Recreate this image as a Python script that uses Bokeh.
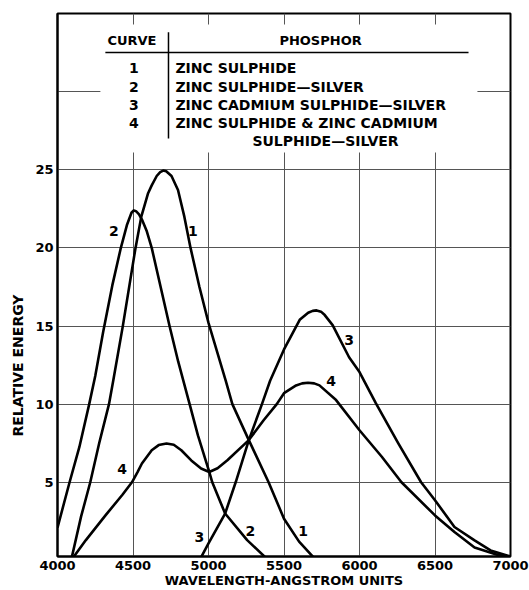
import numpy as np
from bokeh.plotting import figure
from bokeh.models import FixedTicker, Range1d, Title
from bokeh.core.properties import value
from bokeh.embed import file_html
from bokeh.resources import INLINE

FONT = "DejaVu Sans"

# ---- data ----
wl1 = [4090, 4156, 4217, 4276, 4341, 4369, 4432, 4515, 4555, 4600, 4624, 4657, 4680, 4700,
       4720, 4755, 4798, 4840, 4881, 4940, 5000, 5114, 5158, 5267, 5398, 5500, 5600, 5714]
e1 = [0, 2.8, 5.0, 7.5, 10, 11.5, 14.96, 19.9, 22.0, 23.5, 24.0, 24.6, 24.85, 24.95,
      24.9, 24.6, 23.7, 22.0, 20, 17.5, 15.2, 11.5, 10, 7.7, 5, 2.67, 1.2, 0]

wl2 = [4000, 4080, 4145, 4210, 4250, 4302, 4363, 4417, 4461, 4490, 4505, 4520, 4540, 4560,
       4590, 4624, 4742, 4800, 4875, 4930, 5005, 5025, 5110, 5256, 5398]
e2 = [2.1, 5, 7.26, 10, 11.8, 14.6, 17.6, 19.9, 21.5, 22.25, 22.4, 22.35, 22.15, 21.8,
      21.1, 20, 15, 12.7, 10, 8.0, 5.66, 5.0, 3.0, 1.3, 0]

wl3 = [4940, 5000, 5110, 5180, 5267, 5354, 5408, 5500, 5604, 5660, 5690, 5716, 5745, 5770,
       5822, 5931, 6000, 6108, 6258, 6408, 6500, 6629, 6762, 6868, 6977, 7000]
e3 = [0, 1.09, 3.0, 5, 7.7, 10, 11.5, 13.5, 15.4, 15.85, 15.97, 16.0, 15.92, 15.7,
      15.06, 13.0, 12.05, 10.06, 7.48, 5, 3.85, 2.14, 1.28, 0.64, 0.32, 0.25]

wl4 = [4090, 4188, 4319, 4430, 4493, 4530, 4559, 4624, 4670, 4722, 4770, 4820, 4886, 4951,
       5005, 5060, 5125, 5267, 5365, 5452, 5500, 5580, 5620, 5659, 5700, 5735, 5845, 6000,
       6149, 6278, 6500, 6629, 6762, 6912, 7000]
e4 = [0, 1.3, 2.9, 4.2, 5.0, 5.65, 6.2, 7.05, 7.38, 7.48, 7.4, 7.05, 6.4, 5.88,
      5.66, 5.9, 6.41, 7.7, 8.97, 10, 10.7, 11.2, 11.33, 11.37, 11.33, 11.2, 10.26, 8.33,
      6.62, 5.0, 2.88, 1.82, 0.83, 0.36, 0.2]

x_ticks = [4000, 4500, 5000, 5500, 6000, 6500, 7000]
y_ticks = [5, 10, 15, 20, 25]
x_grid = [4500, 5000, 5500, 6000, 6500]
y_grid = [5, 10, 15, 20, 25, 30]

curve_ids = ["1", "2", "3", "4"]
phosphors = ["ZINC SULPHIDE", "ZINC SULPHIDE\u2014SILVER", "ZINC CADMIUM SULPHIDE\u2014SILVER",
             "ZINC SULPHIDE & ZINC CADMIUM"]
phosphor_cont = "SULPHIDE\u2014SILVER"

# curve label anchors (data coords)
lab_x = [4374, 4897, 4428, 4940, 5278, 5626, 5931, 5812]
lab_y = [21.05, 21.1, 5.83, 1.5, 1.9, 1.9, 14.1, 11.5]
lab_t = ["2", "1", "4", "3", "2", "1", "3", "4"]

# ---- figure ----
p = figure(width=529, height=590, x_range=Range1d(4000, 7000), y_range=Range1d(0.25, 35),
           output_backend="svg", toolbar_location=None,
           min_border_left=54, min_border_right=19, min_border_top=13, min_border_bottom=34)
p.background_fill_color = "white"
p.border_fill_color = "white"
p.outline_line_color = "black"
p.outline_line_width = 2

for ax in (p.xaxis[0], p.yaxis[0]):
    ax.axis_line_width = 2
    ax.axis_line_color = "black"
    ax.major_tick_in = 0
    ax.major_tick_out = 0
    ax.minor_tick_line_color = None
    ax.major_label_text_font = FONT
    ax.major_label_text_font_size = "13px"
    ax.major_label_text_font_style = "bold"
    ax.major_label_text_color = "black"
    ax.major_label_standoff = 4
p.xaxis.ticker = FixedTicker(ticks=x_ticks)
p.yaxis.ticker = FixedTicker(ticks=y_ticks)
p.xaxis.axis_label = "WAVELENGTH-ANGSTROM UNITS"
p.xaxis.axis_label_text_font = FONT
p.xaxis.axis_label_text_font_size = "13px"
p.xaxis.axis_label_text_font_style = "bold"
p.xaxis.axis_label_text_color = "black"
p.xaxis.axis_label_standoff = 0
p.xgrid.ticker = FixedTicker(ticks=x_grid)
p.ygrid.ticker = FixedTicker(ticks=y_grid)
for g in (p.xgrid[0], p.ygrid[0]):
    g.grid_line_color = "#555555"
    g.grid_line_width = 1

p.add_layout(Title(text="RELATIVE ENERGY", align="left", offset=120, standoff=14,
                   text_font=FONT, text_font_size="14px", text_font_style="bold",
                   text_color="black"), "left")

# table white box (covers the grid)
p.quad(left=[4284], right=[6781], bottom=[26.1], top=[34.3], fill_color="white", line_color=None)
# table rules
p.segment(x0=[4317, 4735], y0=[32.5, 33.8], x1=[6722, 4735], y1=[32.5, 27.0],
          line_color="black", line_width=1.5)

tf = value(FONT)
common = dict(text_font=tf, text_font_style="bold", text_baseline="middle", text_color="black")
p.text(x=[4493, 5742], y=[33.27, 33.27], text=["CURVE", "PHOSPHOR"],
       text_font_size="13px", text_align="center", **common)
row_y = [31.54, 30.32, 29.17, 28.01]
p.text(x=[4505] * 4, y=row_y, text=curve_ids, text_font_size="14px", text_align="center", **common)
p.text(x=[4781] * 4, y=row_y, text=phosphors, text_font_size="14px", text_align="left", **common)
p.text(x=[5775], y=[26.86], text=[phosphor_cont], text_font_size="14px", text_align="center",
       **common)

# curves
for wl, e in ((wl1, e1), (wl2, e2), (wl3, e3), (wl4, e4)):
    p.line(wl, e, line_color="black", line_width=2.6, line_join="round")

p.text(x=lab_x, y=lab_y, text=lab_t, text_font_size="14px", text_align="center", **common)

open("out.html", "w").write(file_html(p, INLINE))
